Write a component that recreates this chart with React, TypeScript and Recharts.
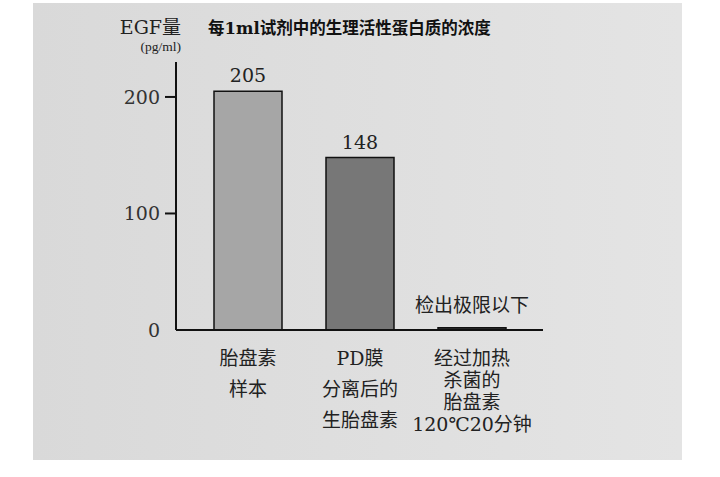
import { BarChart, Bar, XAxis, YAxis, Cell, LabelList } from 'recharts';

const categories = ['胎盘素\n样本', 'PD膜\n分离后的\n生胎盘素', '经过加热\n杀菌的\n胎盘素\n120℃20分钟'];
const values = [205, 148, 2];
const valueLabels = ['205', '148', '检出极限以下'];
const yTicks = [0, 100, 200];
const barColors = ['#a6a6a6', '#777777', '#3a3a3a'];

const data = categories.map((name, i) => ({ name, value: values[i], label: valueLabels[i] }));

const FONT = '"DejaVu Serif", "Noto Sans CJK SC", serif';

const YTick = ({ x, y, payload }: any) => (
  <g>
    {payload.value !== 0 && <line x1={x - 11} x2={x} y1={y} y2={y} stroke="#111" strokeWidth={2} />}
    <text x={x - 16} y={y} dy={7} textAnchor="end" fontSize={19} fill="#333" fontFamily={FONT}>
      {payload.value}
    </text>
  </g>
);

const XTick = ({ x, y, payload }: any) => {
  const lines = String(payload.value).split('\n');
  const lh = lines.length > 3 ? 22 : 31;
  return (
    <g>
      {lines.map((l, i) => (
        <text key={i} x={x} y={y + 35 + i * lh} textAnchor="middle" fontSize={19} fill="#222" fontFamily={FONT}>
          {l}
        </text>
      ))}
    </g>
  );
};

// the "below detection limit" note sits a bit higher than the numbers
const TopLabel = ({ x, y, width, index }: any) => (
  <text x={x + width / 2} y={y - (index === 2 ? 16 : 9)} textAnchor="middle" fontSize={19} fill="#222" fontFamily={FONT}>
    {valueLabels[index]}
  </text>
);

export default function App() {
  return (
    <div style={{ position: 'relative', width: 720, height: 477, background: '#fff', overflow: 'hidden' }}>
      <style>{`body{margin:0}`}</style>
      <div
        style={{
          position: 'absolute', left: 33, top: 3, width: 649, height: 457,
          background: 'linear-gradient(to right, #d9d9d9, #e4e4e4)',
        }}
      />
      <div style={{ position: 'absolute', left: 0, top: 0 }}>
        <BarChart width={720} height={477} data={data} margin={{ top: 62, right: 177, bottom: 0, left: 0 }}>
          <text x={181} y={34} textAnchor="end" fontSize={19} fill="#222" fontFamily={FONT}>EGF量</text>
          <text x={181} y={51} textAnchor="end" fontSize={13.5} fill="#222" fontFamily='"Liberation Serif", serif'>(pg/ml)</text>
          <text x={208} y={34} fontSize={16.5} fontWeight="bold" fill="#111" fontFamily={FONT}>
            每1ml试剂中的生理活性蛋白质的浓度
          </text>
          <XAxis
            dataKey="name"
            height={147}
            padding={{ left: 16, right: 15 }}
            axisLine={{ stroke: '#111', strokeWidth: 2 }}
            tickLine={false}
            tickSize={0}
            tickMargin={0}
            interval={0}
            tick={<XTick />}
          />
          <YAxis
            width={176}
            domain={[0, 230]}
            ticks={yTicks}
            axisLine={{ stroke: '#111', strokeWidth: 2 }}
            tickLine={false}
            tickSize={0}
            tickMargin={0}
            tick={<YTick />}
          />
          <Bar dataKey="value" barSize={68} stroke="#111" strokeWidth={1.5} isAnimationActive={false}>
            {data.map((_, i) => <Cell key={i} fill={barColors[i]} />)}
            <LabelList dataKey="label" content={<TopLabel />} />
          </Bar>
        </BarChart>
      </div>
    </div>
  );
}
